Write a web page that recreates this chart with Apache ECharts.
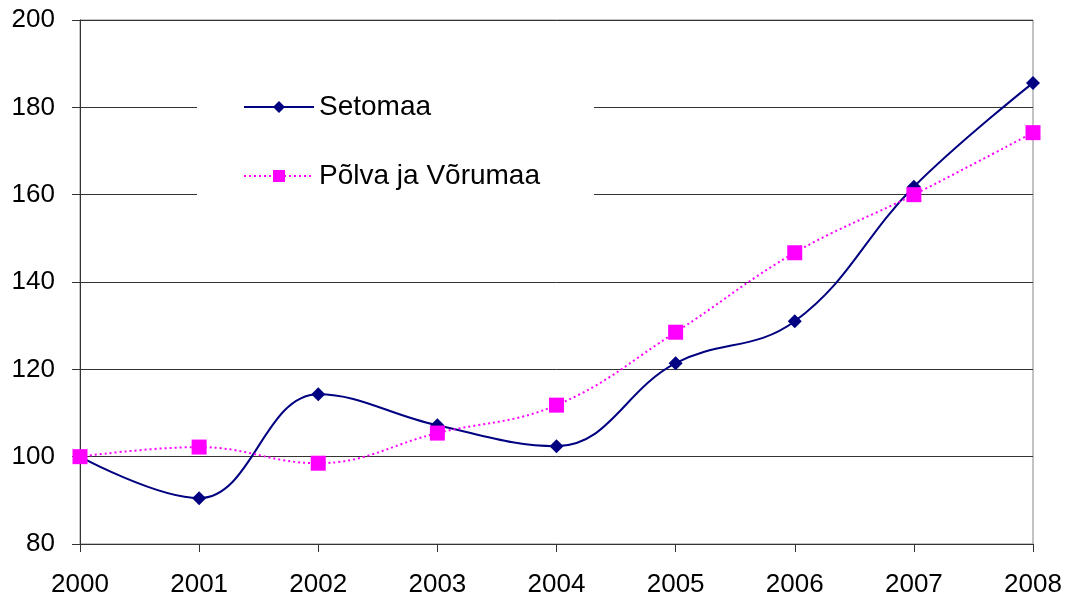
<!DOCTYPE html>
<html>
<head>
<meta charset="utf-8">
<script src="https://cdn.jsdelivr.net/npm/echarts@6/dist/echarts.min.js"></script>
<style>
  html, body { margin: 0; padding: 0; background: #fff; }
  #chart { width: 1068px; height: 598px; }
</style>
</head>
<body>
<div id="chart"></div>
<script>
// years on the x axis
const years = ['2000', '2001', '2002', '2003', '2004', '2005', '2006', '2007', '2008'];
// index values (2000 = 100)
const setomaa = [100, 90.5, 114.3, 107.2, 102.4, 121.4, 131, 161.8, 185.6];
const polvaVoru = [100, 102.2, 98.5, 105.4, 111.8, 128.5, 146.7, 160, 174.2];

const chart = echarts.init(document.getElementById('chart'));
const font = 'Liberation Sans, Arial, sans-serif';

const option = {
  animation: false,
  grid: {
    left: 80, right: 35, top: 20, bottom: 53,
    show: true,
    borderColor: '#888',
    borderWidth: 1
  },
  legend: {
    orient: 'vertical',
    left: 197,
    top: 85,
    backgroundColor: '#fff',
    padding: [8, 54, 14, 46],
    itemGap: 41,
    itemWidth: 70,
    itemHeight: 15,
    textStyle: { fontFamily: font, fontSize: 28, color: '#000' },
    data: ['Setomaa', 'Põlva ja Võrumaa']
  },
  xAxis: {
    type: 'category',
    data: years,
    boundaryGap: false,
    axisLine: { lineStyle: { color: '#333', width: 1 } },
    axisTick: { show: true, alignWithLabel: true, length: 8, lineStyle: { color: '#333' } },
    axisLabel: { fontFamily: font, fontSize: 26, color: '#000', margin: 28 }
  },
  yAxis: {
    type: 'value',
    min: 80,
    max: 200,
    interval: 20,
    axisLine: { show: true, lineStyle: { color: '#333', width: 1 } },
    axisTick: { show: true, length: 8, lineStyle: { color: '#333' } },
    axisLabel: { fontFamily: font, fontSize: 26, color: '#000', margin: 25 },
    splitLine: { lineStyle: { color: '#333', width: 1 } }
  },
  series: [
    {
      name: 'Setomaa',
      type: 'line',
      data: setomaa,
      smooth: 0.4,
      symbol: 'diamond',
      symbolSize: 14,
      showAllSymbol: true,
      lineStyle: { color: '#000080', width: 2 },
      itemStyle: { color: '#000080' },
      z: 3
    },
    {
      name: 'Põlva ja Võrumaa',
      type: 'line',
      data: polvaVoru,
      smooth: 0.4,
      symbol: 'rect',
      symbolSize: 15,
      showAllSymbol: true,
      lineStyle: { color: '#ff00ff', width: 2, type: [2, 3] },
      itemStyle: { color: '#ff00ff' },
      z: 4
    }
  ]
};

chart.setOption(option);
</script>
</body>
</html>
